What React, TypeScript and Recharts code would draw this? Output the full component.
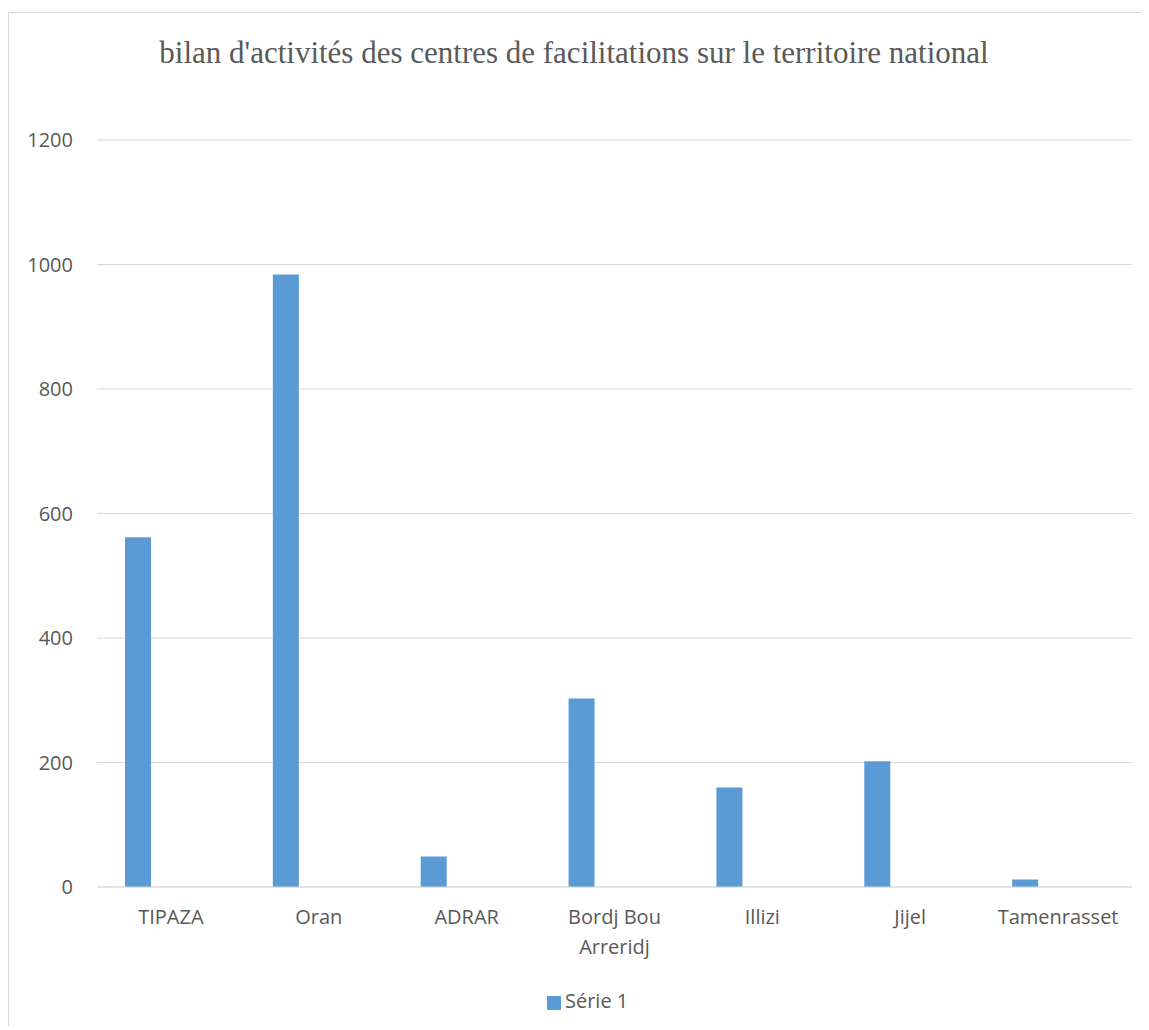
import React from "react";
import { BarChart, Bar, XAxis, YAxis, CartesianGrid, Legend, Text } from "recharts";

const categories = ["TIPAZA", "Oran", "ADRAR", "Bordj Bou Arreridj", "Illizi", "Jijel", "Tamenrasset"];
const serie1 = [562, 984, 49, 303, 160, 202, 12];
const yTicks = [0, 200, 400, 600, 800, 1000, 1200];

const data = categories.map((c, i) => ({ name: c, s1: serie1[i] }));

const FONT = "'Open Sans', sans-serif";
const GREY = "#595959";

const XTick = (props: any) => {
  const { x, y, payload } = props;
  return (
    <Text
      x={x}
      y={y}
      width={120}
      textAnchor="middle"
      verticalAnchor="start"
      lineHeight={30}
      fontFamily={FONT}
      fontSize={20}
      fill={GREY}
    >
      {payload.value}
    </Text>
  );
};

export default function App() {
  return (
    <div
      style={{
        position: "relative",
        marginTop: 4,
        width: 1132,
        height: 1014,
        borderTop: "1px solid #d9d9d9",
        borderLeft: "1px solid #d9d9d9",
        background: "#fff",
        overflow: "hidden",
      }}
    >
      <div
        style={{
          position: "absolute",
          left: 0,
          top: 22,
          width: 1130,
          textAlign: "center",
          fontFamily: "'Liberation Serif', 'Times New Roman', serif",
          fontSize: 31,
          color: GREY,
          lineHeight: "36px",
        }}
      >
        bilan d'activités des centres de facilitations sur le territoire national
      </div>
      <div style={{ position: "absolute", left: 0, top: 0 }}>
        <BarChart
          width={1132}
          height={1014}
          data={data}
          margin={{ top: 127, right: 9, bottom: 0, left: 28 }}
          barSize={26}
          barGap={7}
        >
          <CartesianGrid vertical={false} stroke="#d9d9d9" strokeWidth={1} />
          <XAxis
            dataKey="name"
            interval={0}
            height={100}
            axisLine={{ stroke: "#d9d9d9" }}
            tickLine={false}
            tickSize={0}
            tickMargin={23}
            tick={<XTick />}
          />
          <YAxis
            width={60}
            domain={[0, 1200]}
            ticks={yTicks}
            axisLine={false}
            tickLine={false}
            tickSize={0}
            tickMargin={24}
            tick={{ fontFamily: FONT, fontSize: 20, fill: GREY }}
          />
          <Legend
            verticalAlign="bottom"
            align="left"
            height={40}
            iconType="square"
            iconSize={14}
            wrapperStyle={{ left: 538, top: 974, width: 200, fontFamily: FONT, fontSize: 20 }}
            formatter={(v: any) => <span style={{ color: GREY }}>{v}</span>}
          />
          <Bar dataKey="s1" name="Série 1" fill="#5b9bd5" isAnimationActive={false} />
          <Bar dataKey="s2" name="Série 2" fill="#ed7d31" legendType="none" isAnimationActive={false} />
          <Bar dataKey="s3" name="Série 3" fill="#a5a5a5" legendType="none" isAnimationActive={false} />
        </BarChart>
      </div>
    </div>
  );
}
